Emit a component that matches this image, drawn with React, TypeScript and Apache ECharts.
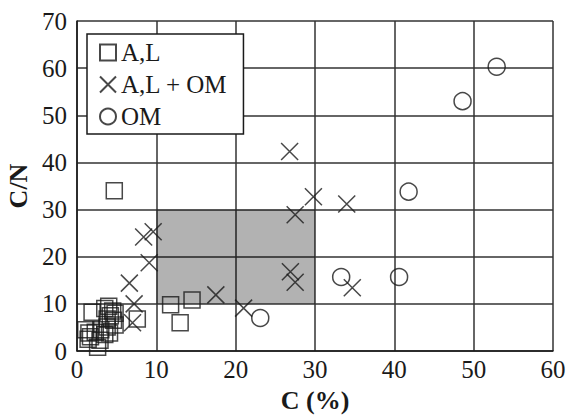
import React, { useEffect, useRef } from "react";
import * as echarts from "echarts";

const seriesNames = ["A,L", "A,L + OM", "OM"];
const xTicks = [0, 10, 20, 30, 40, 50, 60];
const yTicks = [0, 10, 20, 30, 40, 50, 60, 70];

const alPoints: number[][] = [
  [1.1, 4.5], [1.5, 3.8], [2.3, 4.0], [1.7, 3.0], [2.6, 0.8], [2.9, 2.3],
  [3.0, 4.5], [3.5, 3.5], [3.8, 5.1], [4.1, 3.8], [1.9, 8.2], [3.5, 9.0],
  [4.0, 9.5], [4.5, 8.5], [4.2, 7.5], [4.8, 8.0], [4.6, 6.5], [3.8, 6.8],
  [4.8, 5.5], [1.4, 2.5], [7.6, 6.8], [4.7, 34.0], [11.8, 9.8], [14.5, 10.8],
  [13.0, 6.0],
];

const alOmPoints: number[][] = [
  [26.8, 42.3], [29.8, 32.7], [34.0, 31.2], [27.5, 28.9], [26.9, 16.8],
  [27.5, 14.6], [9.6, 25.3], [8.4, 24.2], [9.1, 18.7], [6.6, 14.4],
  [17.5, 11.9], [21.0, 9.1], [7.2, 10.0], [7.0, 6.0], [34.7, 13.4],
];

const omPoints: number[][] = [
  [52.9, 60.3], [48.6, 53.0], [41.8, 33.8], [33.3, 15.7], [40.6, 15.7],
  [23.1, 7.0],
];

const shadedBox = { xFrom: 10, xTo: 30, yFrom: 10, yTo: 30 };

const FONT = "Liberation Serif";
const INK = "#1a1a1a";
const CROSS = "path://M0,0L10,10M10,0L0,10";

export default function App() {
  const ref = useRef<HTMLDivElement>(null);
  useEffect(() => {
    if (!ref.current) return;
    const chart = echarts.init(ref.current, undefined, { renderer: "svg" });
    const markerStyle = { color: "transparent", borderColor: INK, borderWidth: 1.5 };
    chart.setOption({
      animation: false,
      backgroundColor: "#ffffff",
      grid: {
        left: 77,
        right: 15,
        top: 21,
        bottom: 69,
        containLabel: false,
        outerBoundsMode: "none",
      },
      xAxis: {
        type: "value",
        min: xTicks[0],
        max: xTicks[xTicks.length - 1],
        interval: 10,
        name: "C (%)",
        nameLocation: "middle",
        nameGap: 36,
        nameTextStyle: { fontFamily: FONT, fontSize: 26, fontWeight: "bold", color: INK },
        axisLine: { show: true, lineStyle: { color: INK, width: 1.5 } },
        axisTick: { show: false },
        axisLabel: { fontFamily: FONT, fontSize: 25, color: INK, margin: 6 },
        splitLine: { show: true, lineStyle: { color: "#333333", width: 1.5 } },
      },
      yAxis: {
        type: "value",
        min: yTicks[0],
        max: yTicks[yTicks.length - 1],
        interval: 10,
        name: "C/N",
        nameLocation: "middle",
        nameGap: 46,
        nameRotate: 90,
        nameTextStyle: { fontFamily: FONT, fontSize: 26, fontWeight: "bold", color: INK },
        axisLine: { show: true, lineStyle: { color: INK, width: 1.5 } },
        axisTick: { show: false },
        axisLabel: { fontFamily: FONT, fontSize: 25, color: INK, margin: 10 },
        splitLine: { show: true, lineStyle: { color: "#333333", width: 1.5 } },
      },
      legend: {
        orient: "vertical",
        left: 87,
        top: 34,
        backgroundColor: "#ffffff",
        borderColor: INK,
        borderWidth: 1.5,
        borderRadius: 0,
        padding: [6, 16, 5, 12],
        itemGap: 7,
        itemWidth: 16,
        itemHeight: 16,
        textStyle: { fontFamily: FONT, fontSize: 25, color: INK },
        data: seriesNames,
      },
      series: [
        {
          name: seriesNames[0],
          type: "scatter",
          symbol: "rect",
          symbolSize: 16,
          itemStyle: markerStyle,
          data: alPoints,
          z: 3,
          markArea: {
            silent: true,
            itemStyle: { color: "rgba(0,0,0,0.3)" },
            data: [[
              { coord: [shadedBox.xFrom, shadedBox.yFrom] },
              { coord: [shadedBox.xTo, shadedBox.yTo] },
            ]],
          },
        },
        {
          name: seriesNames[1],
          type: "scatter",
          symbol: CROSS,
          symbolSize: 17,
          itemStyle: markerStyle,
          data: alOmPoints,
          z: 4,
        },
        {
          name: seriesNames[2],
          type: "scatter",
          symbol: "circle",
          symbolSize: 17,
          itemStyle: markerStyle,
          data: omPoints,
          z: 4,
        },
      ],
    });
    return () => chart.dispose();
  }, []);
  return (
    <div
      ref={ref}
      style={{ position: "fixed", left: 0, top: 0, width: 568, height: 420 }}
    />
  );
}
